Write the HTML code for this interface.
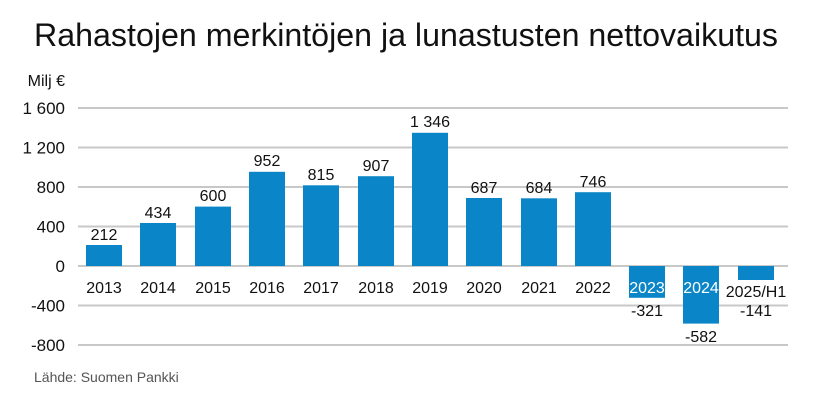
<!DOCTYPE html>
<html><head><meta charset="utf-8"><style>
body{margin:0;background:#fff;}
svg text{font-family:"Liberation Sans",Arial,sans-serif;}
</style></head><body>
<svg width="823" height="407" xmlns="http://www.w3.org/2000/svg">
<text x="34" y="46" font-size="32" fill="#111" textLength="744" lengthAdjust="spacingAndGlyphs">Rahastojen merkintöjen ja lunastusten nettovaikutus</text>
<text x="65" y="86" font-size="16" fill="#111" text-anchor="end">Milj €</text>
<g stroke="#c8c8c8" stroke-width="2">
<line x1="78" x2="788" y1="108" y2="108"/>
<line x1="78" x2="788" y1="147.5" y2="147.5"/>
<line x1="78" x2="788" y1="187" y2="187"/>
<line x1="78" x2="788" y1="226.5" y2="226.5"/>
<line x1="78" x2="788" y1="266" y2="266"/>
<line x1="78" x2="788" y1="305.5" y2="305.5"/>
<line x1="78" x2="788" y1="345" y2="345"/>
</g>
<g font-size="17" fill="#111" text-anchor="end">
<text x="65" y="114">1 600</text>
<text x="65" y="153.5">1 200</text>
<text x="65" y="193">800</text>
<text x="65" y="232.5">400</text>
<text x="65" y="272">0</text>
<text x="65" y="311.5">-400</text>
<text x="65" y="351">-800</text>
</g>
<g fill="#0a86c8">
<rect x="86" y="245" width="36" height="21"/>
<rect x="140" y="223" width="36" height="43"/>
<rect x="195" y="206.6" width="36" height="59.4"/>
<rect x="249" y="171.8" width="36" height="94.2"/>
<rect x="303" y="185.3" width="36" height="80.7"/>
<rect x="358" y="176.2" width="36" height="89.8"/>
<rect x="412" y="132.8" width="36" height="133.2"/>
<rect x="466" y="198" width="36" height="68"/>
<rect x="521" y="198.3" width="36" height="67.7"/>
<rect x="575" y="192.2" width="36" height="73.8"/>
<rect x="629" y="266" width="36" height="31.8"/>
<rect x="683" y="266" width="36" height="57.6"/>
<rect x="738" y="266" width="36" height="14"/>
</g>
<g font-size="16" fill="#111" text-anchor="middle">
<text x="104" y="240">212</text>
<text x="158" y="218">434</text>
<text x="213" y="201">600</text>
<text x="267" y="166">952</text>
<text x="321" y="180">815</text>
<text x="376" y="171">907</text>
<text x="430" y="127">1 346</text>
<text x="484" y="193">687</text>
<text x="539" y="193">684</text>
<text x="593" y="187">746</text>
<text x="647" y="316">-321</text>
<text x="701" y="342">-582</text>
<text x="756" y="316">-141</text>
</g>
<g font-size="16" fill="#111" text-anchor="middle">
<text x="104" y="293">2013</text>
<text x="158" y="293">2014</text>
<text x="213" y="293">2015</text>
<text x="267" y="293">2016</text>
<text x="321" y="293">2017</text>
<text x="376" y="293">2018</text>
<text x="430" y="293">2019</text>
<text x="484" y="293">2020</text>
<text x="539" y="293">2021</text>
<text x="593" y="293">2022</text>
<text x="647" y="293" fill="#fff">2023</text>
<text x="701" y="293" fill="#fff">2024</text>
<text x="756" y="297">2025/H1</text>
</g>
<text x="34" y="382" font-size="14" fill="#555">Lähde: Suomen Pankki</text>
</svg>
</body></html>
